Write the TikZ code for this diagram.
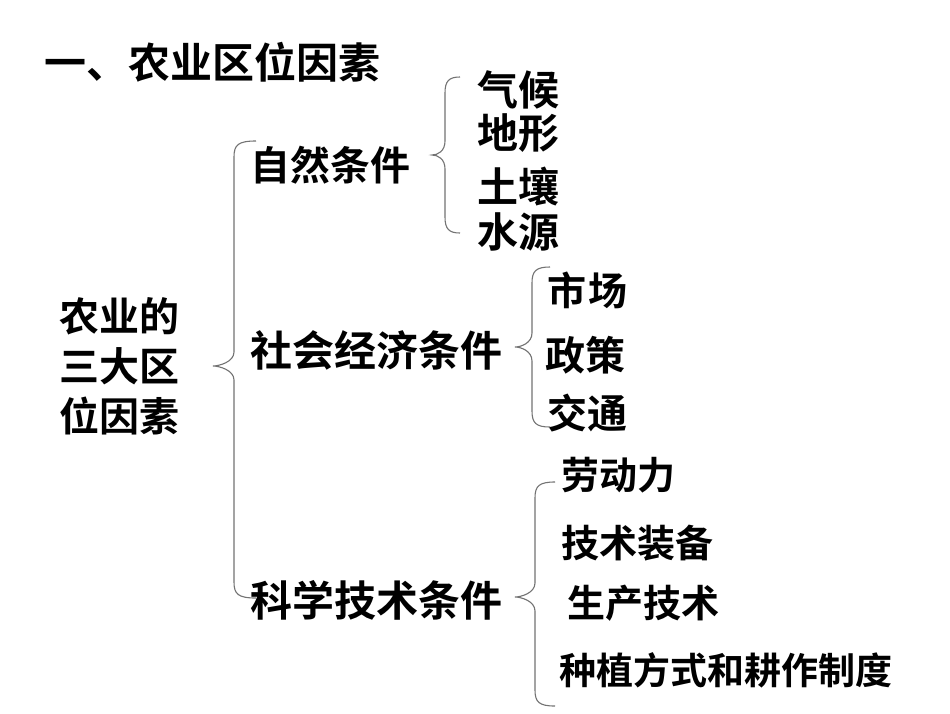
\documentclass[tikz,border=0pt]{standalone}
\usepackage{fontspec}
\newfontfamily\cjk{Noto Sans CJK SC}[BoldFont={Noto Sans CJK SC Bold}]
\newcommand\mybrace[6]{% xe, xv, xt, ytop, ytip, ybot
  \draw[bracestyle] (#1,#4) .. controls (#2+4,#4) and (#2,#4+4) .. (#2,#4+16)
    -- (#2,#5-14) .. controls (#2,#5-4) and (#3+6,#5) .. (#3,#5)
    .. controls (#3+6,#5) and (#2,#5+4) .. (#2,#5+14)
    -- (#2,#6-16) .. controls (#2,#6-4) and (#2+4,#6) .. (#1,#6);}
\begin{document}
\begin{tikzpicture}[x=1pt,y=-1pt,
  lbl/.style={anchor=west,inner sep=0pt,font=\cjk\bfseries\fontsize{#1}{#1}\selectfont},
  lbl/.default=40,
  bracestyle/.style={draw=black!55,line width=1.1pt}]
\useasboundingbox[fill=white] (0,0) rectangle (950,713);
\node[lbl=42] (title) at (44,62) {一、农业区位因素};
\node[lbl=41] (f1) at (477,90) {气候};
\node[lbl=41] (f2) at (477,133) {地形};
\node[lbl=41] (f3) at (477,187) {土壤};
\node[lbl=41] (f4) at (477,232) {水源};
\node[lbl=40] (zr) at (250,165) {自然条件};
\node[lbl=40] (a1) at (59,316) {农业的};
\node[lbl=40] (a2) at (59,366) {三大区};
\node[lbl=40] (a3) at (59,416) {位因素};
\node[lbl=42] (sh) at (250,350) {社会经济条件};
\node[lbl=39] (s1) at (547,290) {市\hspace{2pt}场};
\node[lbl=40] (s2) at (545,355) {政策};
\node[lbl=40] (s3) at (547,413) {交通};
\node[lbl=38] (k1) at (561,475) {劳动力};
\node[lbl=38] (k2) at (561,543) {技术装备};
\node[lbl=38] (k3) at (567,603) {生产技术};
\node[lbl=37] (k4) at (559,670) {种植方式和耕作制度};
\node[lbl=42] (kx) at (250,600) {科学技术条件};
\mybrace{256}{234}{213}{141}{366}{598}
\mybrace{460}{445}{432}{77}{155}{233}
\mybrace{550}{532}{515}{267}{347}{427}
\mybrace{555}{535}{515}{482}{597}{706}
\end{tikzpicture}
\end{document}
